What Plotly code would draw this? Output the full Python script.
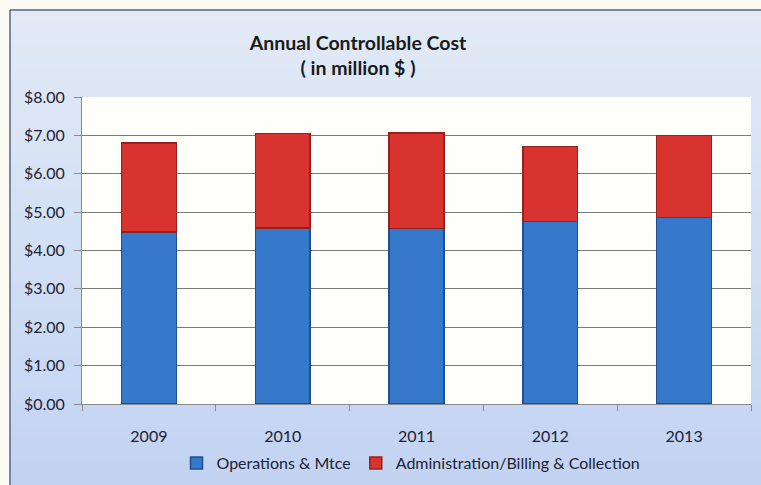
import plotly.graph_objects as go

# Annual controllable cost, in million $
years = ["2009", "2010", "2011", "2012", "2013"]
operations_mtce = [4.48, 4.58, 4.57, 4.75, 4.86]
admin_billing_collection = [2.32, 2.47, 2.49, 1.96, 2.14]
y_tick_values = [0, 1, 2, 3, 4, 5, 6, 7, 8]
y_tick_labels = ["$0.00", "$1.00", "$2.00", "$3.00", "$4.00", "$5.00", "$6.00", "$7.00", "$8.00"]

W, H = 761, 485
ML, MR, MT, MB = 82, 10, 97, 81
PW, PH = W - ML - MR, H - MT - MB


def px_x(x):
    return (x - ML) / PW


def px_y(y):
    return (H - MB - y) / PH


def mix(c1, c2, t):
    return "#%02x%02x%02x" % tuple(round(a + (b - a) * t) for a, b in zip(c1, c2))


FONT = "Lato, 'Open Sans', sans-serif"

fig = go.Figure()
fig.add_trace(go.Bar(
    x=years, y=operations_mtce, name="Operations & Mtce",
    marker=dict(color="#3679cb", line=dict(color="#1f4f8f", width=1.5)),
))
fig.add_trace(go.Bar(
    x=years, y=admin_billing_collection, name="Administration/Billing & Collection",
    marker=dict(color="#d8332f", line=dict(color="#962220", width=1.5)),
))

shapes = []
# light page margin outside the chart frame
shapes.append(dict(type="rect", xref="paper", yref="paper", layer="below",
                   x0=px_x(-5), x1=px_x(W), y0=px_y(H), y1=px_y(-5),
                   fillcolor="#fbfbf4", line=dict(width=0)))
# vertical blue gradient inside the frame (bands overlap to avoid seams)
top_c, bot_c = (226, 234, 246), (194, 211, 242)
n = 40
y_top, y_bot = 10, H
step = (y_bot - y_top) / n
for i in range(n):
    ya = y_top + step * i
    yb = min(ya + step + 1.5, H)
    shapes.append(dict(type="rect", xref="paper", yref="paper", layer="below",
                       x0=px_x(10), x1=px_x(W), y0=px_y(yb), y1=px_y(ya),
                       fillcolor=mix(top_c, bot_c, i / (n - 1)), line=dict(width=0)))
# chart frame: top and left edges
shapes.append(dict(type="line", xref="paper", yref="paper", layer="below",
                   x0=px_x(10), x1=px_x(W), y0=px_y(10), y1=px_y(10),
                   line=dict(color="#55667c", width=1.5)))
shapes.append(dict(type="line", xref="paper", yref="paper", layer="below",
                   x0=px_x(10), x1=px_x(10), y0=px_y(10), y1=px_y(H),
                   line=dict(color="#55667c", width=1.5)))
# plot area background
shapes.append(dict(type="rect", xref="paper", yref="paper", layer="below",
                   x0=0, x1=1, y0=0, y1=1,
                   fillcolor="#fefefb", line=dict(width=0)))

fig.update_layout(
    width=W, height=H,
    margin=dict(l=ML, r=MR, t=MT, b=MB),
    paper_bgcolor="#fbfbf4",
    plot_bgcolor="rgba(0,0,0,0)",
    barmode="stack",
    bargap=0.59,
    shapes=shapes,
    font=dict(family=FONT, size=16, color="#1c2233"),
    title=dict(
        text="<b>Annual Controllable Cost</b><br><b>( in million $ )</b>",
        x=358 / W, xref="container", xanchor="center",
        y=1 - 50 / H, yanchor="top",
        font=dict(family=FONT, size=19.5, color="#1a1a1a"),
    ),
    showlegend=True,
    legend=dict(
        orientation="h", x=411 / W, xref="container", xanchor="center",
        y=1 - 446 / H, yref="container", yanchor="top",
        font=dict(family=FONT, size=16, color="#1c2233"),
        bgcolor="rgba(0,0,0,0)", itemwidth=30, traceorder="normal",
    ),
    xaxis=dict(
        type="category", showgrid=False, showline=True, linecolor="#8a8a8a", linewidth=1,
        ticks="outside", tickson="boundaries", ticklen=6, tickcolor="#8a8a8a",
        ticklabelstandoff=18, automargin=False,
        tickfont=dict(family=FONT, size=16, color="#1c2233"),
    ),
    yaxis=dict(
        range=[0, 8], tickvals=y_tick_values, ticktext=y_tick_labels,
        showgrid=True, gridcolor="#7a7a7a", gridwidth=1,
        showline=True, linecolor="#8a8a8a", linewidth=1,
        ticks="outside", ticklen=7, tickcolor="#8a8a8a",
        ticklabelstandoff=6, automargin=False,
        zeroline=False,
        tickfont=dict(family=FONT, size=16, color="#1c2233"),
    ),
)

fig.write_html("out.html")
